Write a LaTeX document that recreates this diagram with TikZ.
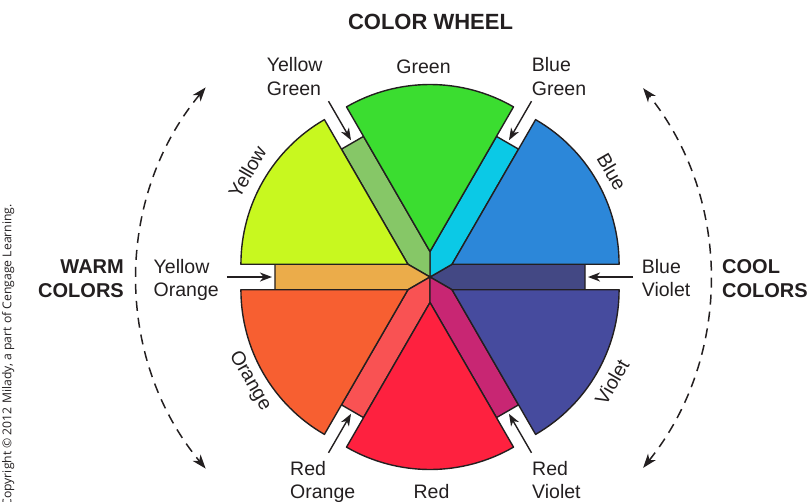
\documentclass[tikz,border=0pt]{standalone}
\usepackage{fontspec}
\setmainfont{Liberation Sans}
\newfontfamily\copyfont{Open Sans}
\usetikzlibrary{arrows.meta,calc}
\definecolor{outl}{HTML}{231F20}
\definecolor{ink}{HTML}{231F20}
\definecolor{cGreen}{HTML}{3BDD30}
\definecolor{cBlue}{HTML}{2C87D9}
\definecolor{cViolet}{HTML}{464B9E}
\definecolor{cRed}{HTML}{FE213F}
\definecolor{cOrange}{HTML}{F75F31}
\definecolor{cYellow}{HTML}{C8F81F}
\definecolor{cYG}{HTML}{86C767}
\definecolor{cBG}{HTML}{0BC9E6}
\definecolor{cBV}{HTML}{434884}
\definecolor{cRV}{HTML}{C82673}
\definecolor{cRO}{HTML}{F95253}
\definecolor{cYO}{HTML}{EBAC4A}
\begin{document}
\begin{tikzpicture}[x=1pt,y=1pt,
  wedge/.style={draw=outl, line width=1.4pt, line join=round},
  lab/.style={font=\fontsize{19.5}{23.3}\selectfont, text=ink, inner sep=0pt},
  boldlab/.style={font=\fontsize{20}{24}\selectfont\bfseries, text=ink, inner sep=0pt},
  ptr/.style={draw=ink, line width=1.4pt, -{Stealth[length=12pt,width=9pt,inset=3.5pt]}},
  span/.style={draw=ink, line width=1.5pt, dash pattern=on 10pt off 7pt,
    {Stealth[length=14pt,width=10pt,inset=4pt]}-{Stealth[length=14pt,width=10pt,inset=4pt]}}]
\useasboundingbox (-430,-224) rectangle (380,277);

% tertiary strips
\foreach \t/\c in {0/cBV,60/cBG,120/cYG,180/cYO,240/cRO,300/cRV}
  \filldraw[wedge, fill=\c] (0,0) -- (\t-30:25.5) -- ($(\t:155)+(\t-90:12.75)$)
    -- ($(\t:155)+(\t+90:12.75)$) -- (\t+30:25.5) -- cycle;

% primary and secondary sectors
\foreach \p/\c in {30/cBlue,90/cGreen,150/cYellow,210/cOrange,270/cRed,330/cViolet}
  \filldraw[wedge, fill=\c] (\p:25.5) -- ++(\p-30:167)
    arc[start angle=\p-30, end angle=\p+30, radius=167] -- cycle;

% title
\node[boldlab, font=\fontsize{22}{26}\selectfont\bfseries, anchor=base] (title) at (0.5,247) {COLOR WHEEL};

% sector labels
\node[lab, anchor=base] (lgreen) at (-6.5,204) {Green};
\node[lab, anchor=base] (lred) at (1.5,-221) {Red};
\node[lab, rotate=60] (lyellow) at (150:211) {Yellow};
\node[lab, rotate=-60] (lblue) at (30:210) {Blue};
\node[lab, rotate=-60] (lorange) at (210:208) {Orange};
\node[lab, rotate=60] (lviolet) at (330:210) {Violet};

% strip labels
\node[lab, anchor=base west] (yg1) at (-163.3,205.3) {Yellow};
\node[lab, anchor=base west] (yg2) at (-163.3,182) {Green};
\node[lab, anchor=base west] (bg1) at (101.7,205.3) {Blue};
\node[lab, anchor=base west] (bg2) at (101.7,182) {Green};
\node[lab, anchor=base west] (yo1) at (-276.5,4) {Yellow};
\node[lab, anchor=base west] (yo2) at (-276.5,-19.3) {Orange};
\node[lab, anchor=base west] (bv1) at (211.7,4) {Blue};
\node[lab, anchor=base west] (bv2) at (211.7,-19.3) {Violet};
\node[lab, anchor=base west] (ro1) at (-140,-198) {Red};
\node[lab, anchor=base west] (ro2) at (-140,-221.3) {Orange};
\node[lab, anchor=base west] (rv1) at (102,-198) {Red};
\node[lab, anchor=base west] (rv2) at (102,-221.3) {Violet};

% pointers
\foreach \t/\n in {0/bv,60/bg,120/yg,180/yo,240/ro,300/rv}{
  \coordinate (t\n) at (\t:203);
  \coordinate (h\n) at (\t:158);
  \draw[ptr] (t\n) -- (h\n);
}

% warm / cool
\node[boldlab, anchor=base east] (warm1) at (-306,4) {WARM};
\node[boldlab, anchor=base east] (warm2) at (-306,-20) {COLORS};
\node[boldlab, anchor=base west] (cool1) at (292,4) {COOL};
\node[boldlab, anchor=base west] (cool2) at (292,-20) {COLORS};

\coordinate (wc) at (6,-1);
\coordinate (cc) at (-23,-1);
\draw[span] ($(wc)+(140.4:299)$) arc[start angle=140.4, end angle=219.6, radius=299];
\draw[span] ($(cc)+(-38.8:303)$) arc[start angle=-38.8, end angle=38.8, radius=303];

% copyright
\node[inner sep=0pt, rotate=90, anchor=base east, text=ink,
  font=\copyfont\fontsize{12.2}{14}\selectfont] (copy) at (-418.5,73)
  {Copyright \textcopyright{} 2012 Milady, a part of Cengage Learning.};
\end{tikzpicture}
\end{document}
